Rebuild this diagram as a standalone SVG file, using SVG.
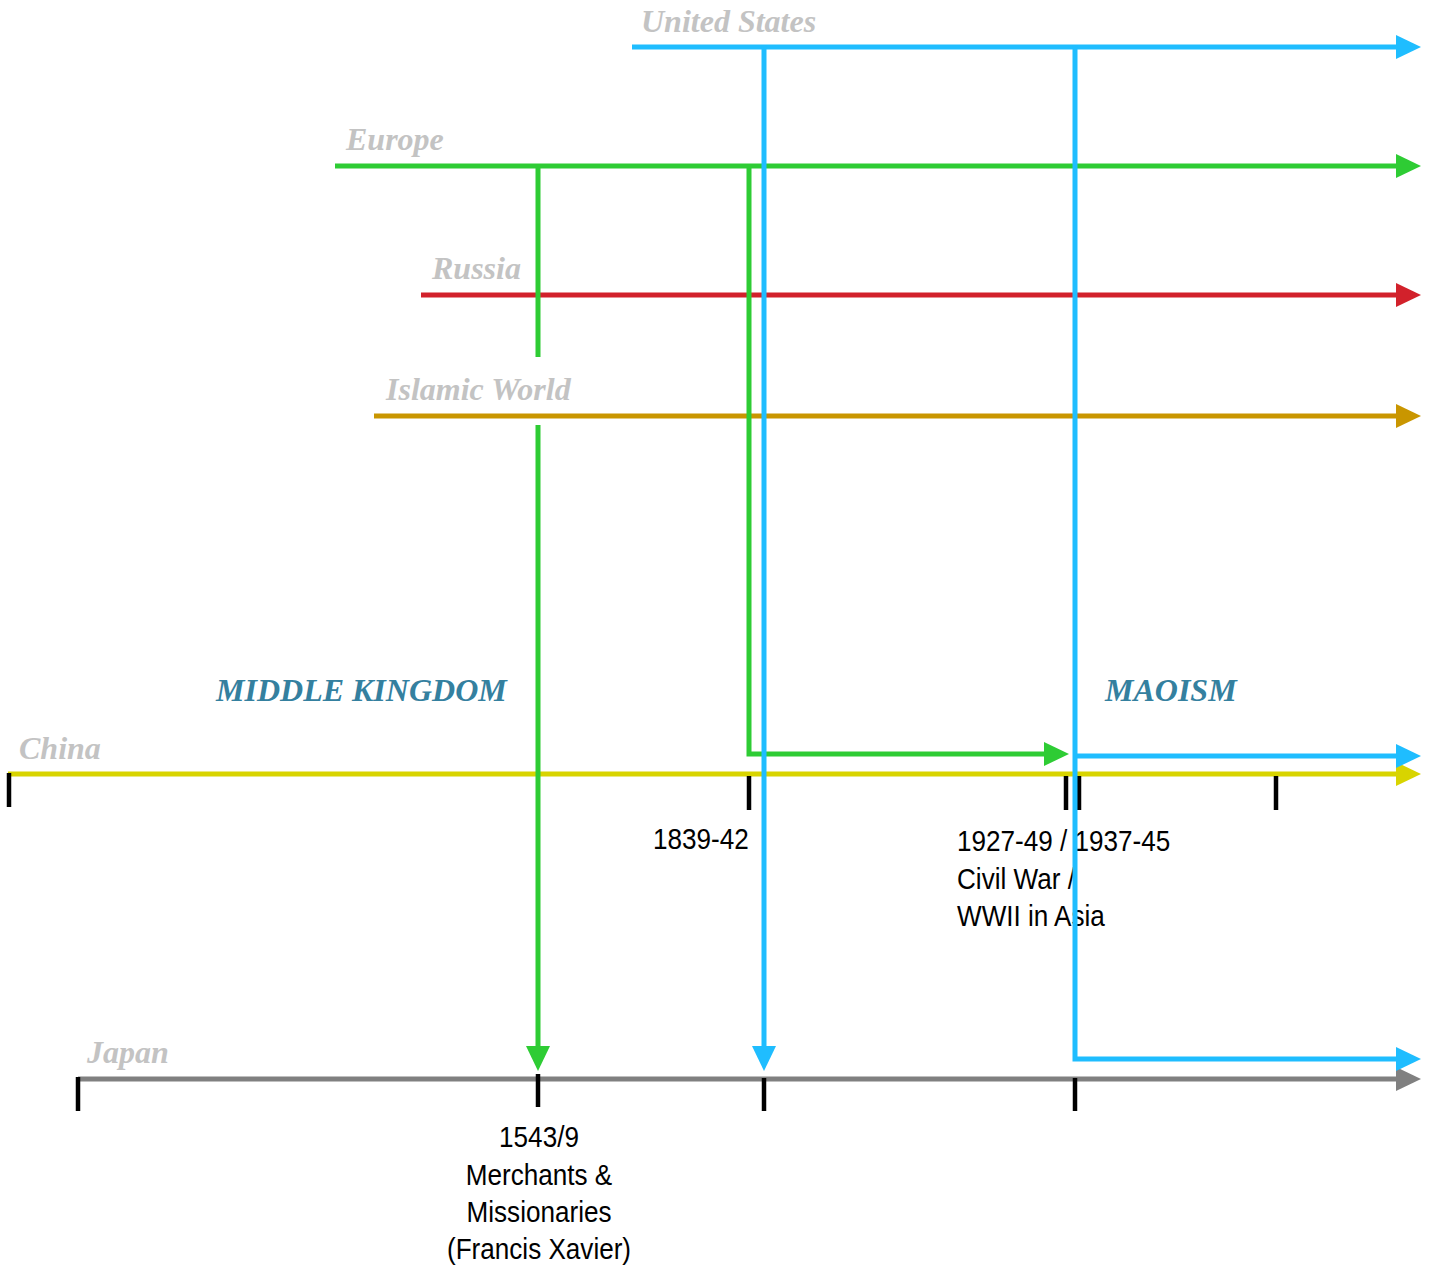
<svg xmlns="http://www.w3.org/2000/svg" width="1429" height="1268" viewBox="0 0 1429 1268">
<style>
.ln{fill:none;stroke-width:5;stroke-linecap:butt;stroke-linejoin:miter}
.tick{stroke:#000;stroke-width:4.5}
.lbl{font-family:"Liberation Serif","Times New Roman",serif;font-weight:bold;font-style:italic;font-size:32px;fill:#c3c3c3}
.era{font-family:"Liberation Serif","Times New Roman",serif;font-weight:bold;font-style:italic;font-size:32px;fill:#34809f}
.note{font-family:"Liberation Sans",Arial,sans-serif;font-size:29px;fill:#000}
</style>
<defs>
<marker id="a-blue" markerUnits="userSpaceOnUse" markerWidth="27" markerHeight="26" viewBox="0 -13 27 26" refX="1" refY="0" orient="auto"><path d="M0,-12 L25,0 L0,12 z" fill="#1fbdff"/></marker>
<marker id="a-green" markerUnits="userSpaceOnUse" markerWidth="27" markerHeight="26" viewBox="0 -13 27 26" refX="1" refY="0" orient="auto"><path d="M0,-12 L25,0 L0,12 z" fill="#2ecc34"/></marker>
<marker id="a-red" markerUnits="userSpaceOnUse" markerWidth="27" markerHeight="26" viewBox="0 -13 27 26" refX="1" refY="0" orient="auto"><path d="M0,-12 L25,0 L0,12 z" fill="#d2212b"/></marker>
<marker id="a-gold" markerUnits="userSpaceOnUse" markerWidth="27" markerHeight="26" viewBox="0 -13 27 26" refX="1" refY="0" orient="auto"><path d="M0,-12 L25,0 L0,12 z" fill="#c99600"/></marker>
<marker id="a-yellow" markerUnits="userSpaceOnUse" markerWidth="27" markerHeight="26" viewBox="0 -13 27 26" refX="1" refY="0" orient="auto"><path d="M0,-12 L25,0 L0,12 z" fill="#d8d400"/></marker>
<marker id="a-grey" markerUnits="userSpaceOnUse" markerWidth="27" markerHeight="26" viewBox="0 -13 27 26" refX="1" refY="0" orient="auto"><path d="M0,-12 L25,0 L0,12 z" fill="#808080"/></marker>
</defs>
<rect width="1429" height="1268" fill="#fff"/>

<g id="united-states">
<text class="lbl" x="641" y="32">United States</text>
<line class="ln" x1="632" y1="47" x2="1397" y2="47" stroke="#1fbdff" marker-end="url(#a-blue)"/>
</g>
<g id="europe">
<text class="lbl" x="346" y="150">Europe</text>
<line class="ln" x1="335" y1="166" x2="1397" y2="166" stroke="#2ecc34" marker-end="url(#a-green)"/>
</g>
<g id="russia">
<text class="lbl" x="432" y="279">Russia</text>
<line class="ln" x1="421" y1="295" x2="1397" y2="295" stroke="#d2212b" marker-end="url(#a-red)"/>
</g>
<g id="islamic-world">
<text class="lbl" x="386" y="400">Islamic World</text>
<line class="ln" x1="374" y1="416" x2="1397" y2="416" stroke="#c99600" marker-end="url(#a-gold)"/>
</g>
<g id="china">
<text class="lbl" x="19" y="759">China</text>
<text class="era" x="216" y="701">MIDDLE KINGDOM</text>
<text class="era" x="1105" y="701">MAOISM</text>
<line class="ln" x1="8" y1="774" x2="1397" y2="774" stroke="#d8d400" marker-end="url(#a-yellow)"/>
<line class="tick" x1="9" y1="773" x2="9" y2="807"/>
<line class="tick" x1="749" y1="776" x2="749" y2="810"/>
<line class="tick" x1="1066" y1="776" x2="1066" y2="810"/>
<line class="tick" x1="1079" y1="776" x2="1079" y2="810"/>
<line class="tick" x1="1276" y1="776" x2="1276" y2="810"/>
<text class="note" transform="translate(653 849) scale(0.9 1)">1839-42</text>
<text class="note" transform="translate(957 851) scale(0.9 1)">1927-49 / 1937-45</text>
<text class="note" transform="translate(957 889) scale(0.9 1)">Civil War /</text>
<text class="note" transform="translate(957 926) scale(0.9 1)">WWII in Asia</text>
</g>
<g id="japan">
<text class="lbl" x="87" y="1063">Japan</text>
<line class="ln" x1="78" y1="1079" x2="1397" y2="1079" stroke="#808080" marker-end="url(#a-grey)"/>
<line class="tick" x1="78" y1="1077" x2="78" y2="1111"/>
<line class="tick" x1="538" y1="1074" x2="538" y2="1107"/>
<line class="tick" x1="764" y1="1078" x2="764" y2="1111"/>
<line class="tick" x1="1075" y1="1078" x2="1075" y2="1111"/>
<g text-anchor="middle">
<text class="note" transform="translate(539 1147) scale(0.9 1)">1543/9</text>
<text class="note" transform="translate(539 1185) scale(0.9 1)">Merchants &amp;</text>
<text class="note" transform="translate(539 1222) scale(0.9 1)">Missionaries</text>
<text class="note" transform="translate(539 1259) scale(0.9 1)">(Francis Xavier)</text>
</g>
</g>

<g id="connectors">
<line class="ln" x1="538" y1="164" x2="538" y2="357" stroke="#2ecc34"/>
<line class="ln" x1="538" y1="425" x2="538" y2="1047" stroke="#2ecc34" marker-end="url(#a-green)"/>
<path class="ln" d="M749,164 V754 H1045" stroke="#2ecc34" marker-end="url(#a-green)"/>
<line class="ln" x1="764" y1="45" x2="764" y2="1047" stroke="#1fbdff" marker-end="url(#a-blue)"/>
<path class="ln" d="M1075,45 V1059 H1397" stroke="#1fbdff" marker-end="url(#a-blue)"/>
<line class="ln" x1="1075" y1="756" x2="1397" y2="756" stroke="#1fbdff" marker-end="url(#a-blue)"/>
</g>
</svg>
